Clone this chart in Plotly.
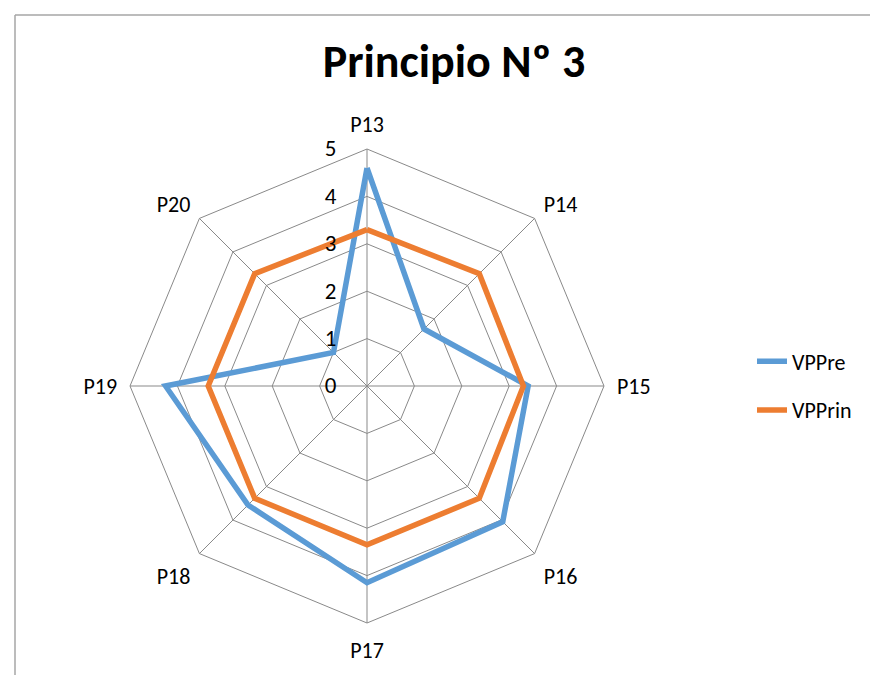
import plotly.graph_objects as go

categories = ["P13", "P14", "P15", "P16", "P17", "P18", "P19", "P20"]
vppre = [4.6, 1.7, 3.4, 4.05, 4.15, 3.55, 4.25, 1.0]
vpprin = [3.3, 3.35, 3.3, 3.35, 3.35, 3.35, 3.35, 3.35]
radial_ticks = [0, 1, 2, 3, 4, 5]

FONT = "Carlito, Calibri, Lato, 'Open Sans', sans-serif"
GRID = "#898989"

fig = go.Figure()
fig.add_trace(go.Scatterpolar(
    r=vppre + [vppre[0]], theta=categories + [categories[0]], mode="lines",
    name="VPPre", line=dict(color="#5B9BD5", width=5.5), legendgroup="a"))
fig.add_trace(go.Scatterpolar(
    r=vpprin + [vpprin[0]], theta=categories + [categories[0]], mode="lines",
    name="VPPrin", line=dict(color="#ED7D31", width=5.5), legendgroup="b"))

fig.update_layout(
    width=878, height=675,
    margin=dict(l=0, r=0, t=0, b=0),
    paper_bgcolor="white", plot_bgcolor="white",
    showlegend=True,
    font=dict(family=FONT, size=22, color="#000000"),
    title=dict(text="<b>Principio Nº 3</b>", x=446/878, xanchor="center",
               y=1-53/675, yanchor="middle",
               font=dict(family=FONT, size=46, color="#000000")),
    polar=dict(
        domain=dict(x=[122/878, 596/878], y=[1-615/675, 1-141/675]),
        gridshape="linear",
        bgcolor="white",
        radialaxis=dict(range=[0, 5], tickvals=radial_ticks, angle=90,
                        showline=False, ticks="outside", ticklen=22,
                        tickcolor="rgba(0,0,0,0)", gridcolor=GRID, gridwidth=1,
                        side="counterclockwise", tickangle=90,
                        tickfont=dict(family=FONT, size=23)),
        angularaxis=dict(direction="clockwise", rotation=90, categoryarray=categories,
                         type="category", showline=True, linecolor=GRID, linewidth=1,
                         gridcolor=GRID, gridwidth=1, ticks="outside", ticklen=8,
                         tickcolor="rgba(0,0,0,0)",
                         tickfont=dict(family=FONT, size=22)),
    ),
    legend=dict(x=744/878, y=1-378/675, xanchor="left", yanchor="middle",
                traceorder="grouped", tracegroupgap=17,
                font=dict(family=FONT, size=22), bgcolor="rgba(0,0,0,0)"),
    shapes=[
        dict(type="line", xref="paper", yref="paper", x0=7/878, x1=7/878,
             y0=0, y1=1-7/675, line=dict(color="#A6A6A6", width=1.5)),
        dict(type="line", xref="paper", yref="paper", x0=7/878, x1=1,
             y0=1-7/675, y1=1-7/675, line=dict(color="#A6A6A6", width=1.5)),
    ],
)

fig.write_html("out.html")
